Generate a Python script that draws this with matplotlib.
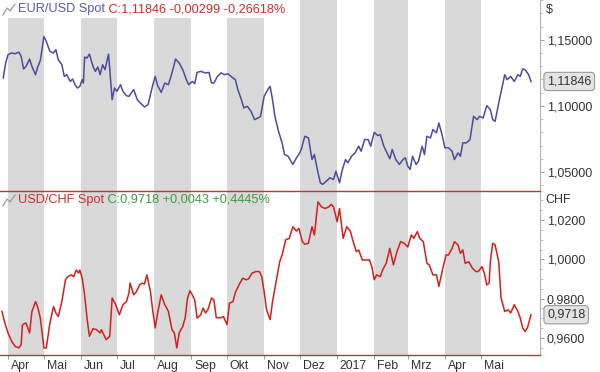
import matplotlib
matplotlib.use('Agg')
import matplotlib.pyplot as plt
import matplotlib.transforms as mtransforms
from matplotlib.patches import Rectangle
from matplotlib.ticker import FixedLocator, MultipleLocator, FuncFormatter
import pandas as pd

plt.rcParams['font.family'] = ['Liberation Sans', 'DejaVu Sans']

# ---------------- data ----------------
start = pd.Timestamp('2016-04-01')

eur_days = [
    -4, -2, 0, 3, 6, 9, 11, 13, 15, 18,
    20, 23, 25, 27, 30, 32, 35, 38, 40, 42,
    45, 47, 49, 52, 54, 56, 58, 60, 62, 63,
    64, 66, 68, 71, 73, 75, 77, 79, 81, 84,
    87, 89, 91, 94, 96, 99, 101, 105, 108, 110,
    114, 117, 119, 121, 123, 125, 128, 131, 134, 137,
    140, 143, 146, 149, 151, 154, 156, 158, 161, 165,
    168, 170, 172, 175, 178, 181, 184, 187, 190, 192,
    195, 197, 200, 203, 206, 209, 211, 214, 217, 219,
    221, 223, 226, 229, 231, 234, 238, 241, 243, 245,
    248, 251, 254, 256, 259, 261, 263, 266, 269, 272,
    274, 277, 279, 282, 284, 287, 290, 293, 295, 298,
    301, 303, 306, 309, 311, 314, 316, 319, 321, 324,
    327, 330, 332, 334, 336, 338, 341, 343, 346, 348,
    350, 353, 355, 358, 360, 363, 365, 368, 371, 373,
    376, 378, 380, 383, 386, 389, 392, 394, 397, 400,
    403, 405, 407, 410, 413, 415, 417, 420, 423, 426,
    428, 430, 432, 435, 437]
eur_vals = [
    1.1211, 1.1324, 1.1387, 1.1400, 1.1394, 1.1407, 1.1374, 1.1279, 1.1298, 1.1354,
    1.1298, 1.1236, 1.1298, 1.1344, 1.1525, 1.1487, 1.1412, 1.1400, 1.1425, 1.1349,
    1.1311, 1.1223, 1.1236, 1.1185, 1.1203, 1.1160, 1.1135, 1.1148, 1.1198, 1.1173,
    1.1369, 1.1362, 1.1392, 1.1298, 1.1261, 1.1294, 1.1236, 1.1311, 1.1274, 1.1392,
    1.1047, 1.1135, 1.1110, 1.1160, 1.1110, 1.1077, 1.1072, 1.1123, 1.1047, 1.1027,
    1.0992, 1.1009, 1.1085, 1.1160, 1.1223, 1.1153, 1.1102, 1.1173, 1.1160, 1.1249,
    1.1354, 1.1324, 1.1274, 1.1198, 1.1160, 1.1185, 1.1168, 1.1253, 1.1261, 1.1249,
    1.1253, 1.1173, 1.1173, 1.1223, 1.1249, 1.1236, 1.1243, 1.1218, 1.1198, 1.1123,
    1.1047, 1.0985, 1.0997, 1.0959, 1.0896, 1.0909, 1.0921, 1.1072, 1.1123, 1.1148,
    1.1047, 1.0921, 1.0808, 1.0720, 1.0632, 1.0619, 1.0557, 1.0607, 1.0632, 1.0670,
    1.0770, 1.0758, 1.0594, 1.0632, 1.0494, 1.0418, 1.0406, 1.0431, 1.0456, 1.0443,
    1.0506, 1.0418, 1.0506, 1.0594, 1.0569, 1.0619, 1.0645, 1.0695, 1.0657, 1.0745,
    1.0745, 1.0695, 1.0800, 1.0775, 1.0783, 1.0695, 1.0657, 1.0600, 1.0670, 1.0594,
    1.0557, 1.0594, 1.0607, 1.0544, 1.0519, 1.0619, 1.0557, 1.0582, 1.0695, 1.0632,
    1.0770, 1.0758, 1.0821, 1.0796, 1.0871, 1.0770, 1.0683, 1.0683, 1.0657, 1.0594,
    1.0645, 1.0619, 1.0720, 1.0720, 1.0745, 1.0921, 1.0896, 1.0921, 1.0909, 1.1002,
    1.0972, 1.0896, 1.0883, 1.1022, 1.1148, 1.1236, 1.1198, 1.1223, 1.1185, 1.1236,
    1.1223, 1.1279, 1.1274, 1.1236, 1.11846]

chf_days = [
    -5, -3, 0, 3, 6, 9, 11, 12, 15, 18,
    20, 23, 25, 27, 30, 32, 35, 38, 40, 42,
    45, 48, 50, 53, 55, 57, 59, 60, 62, 64,
    66, 68, 71, 74, 77, 78, 80, 82, 85, 87,
    90, 93, 96, 99, 101, 102, 105, 107, 110, 112,
    114, 116, 119, 121, 123, 125, 128, 131, 134, 137,
    139, 141, 143, 146, 148, 150, 152, 154, 156, 158,
    161, 163, 165, 167, 170, 172, 174, 177, 180, 183,
    185, 188, 190, 193, 196, 199, 201, 204, 207, 210,
    212, 214, 216, 219, 221, 223, 227, 229, 232, 235,
    238, 241, 243, 246, 248, 251, 254, 256, 259, 262,
    265, 268, 270, 272, 275, 277, 280, 283, 286, 288,
    291, 293, 296, 299, 302, 304, 306, 308, 311, 313,
    316, 319, 322, 325, 328, 331, 334, 337, 339, 342,
    344, 347, 350, 352, 355, 358, 360, 363, 366, 368,
    371, 373, 376, 378, 380, 382, 385, 388, 391, 393,
    396, 398, 400, 402, 403, 405, 407, 410, 412, 415,
    418, 420, 423, 426, 428, 430, 432, 434, 437]
chf_vals = [
    0.9735, 0.9684, 0.9625, 0.9583, 0.9557, 0.9549, 0.9566, 0.9667, 0.9676, 0.9625,
    0.9735, 0.9785, 0.9752, 0.9701, 0.9549, 0.9549, 0.9676, 0.9760, 0.9727, 0.9709,
    0.9785, 0.9896, 0.9912, 0.9921, 0.9912, 0.9946, 0.9930, 0.9946, 0.9904, 0.9819,
    0.9701, 0.9608, 0.9647, 0.9642, 0.9625, 0.9642, 0.9617, 0.9591, 0.9608, 0.9803,
    0.9769, 0.9718, 0.9769, 0.9785, 0.9828, 0.9879, 0.9819, 0.9833, 0.9870, 0.9879,
    0.9874, 0.9921, 0.9836, 0.9735, 0.9651, 0.9727, 0.9819, 0.9769, 0.9735, 0.9642,
    0.9625, 0.9549, 0.9625, 0.9659, 0.9701, 0.9803, 0.9840, 0.9819, 0.9794, 0.9701,
    0.9718, 0.9752, 0.9727, 0.9743, 0.9803, 0.9794, 0.9704, 0.9701, 0.9709, 0.9667,
    0.9777, 0.9785, 0.9833, 0.9870, 0.9904, 0.9896, 0.9901, 0.9930, 0.9938, 0.9938,
    0.9912, 0.9836, 0.9743, 0.9693, 0.9784, 0.9853, 0.9988, 1.0022, 1.0099, 1.0107,
    1.0166, 1.0144, 1.0158, 1.0090, 1.0077, 1.0082, 1.0166, 1.0124, 1.0293, 1.0267,
    1.0259, 1.0267, 1.0280, 1.0267, 1.0191, 1.0259, 1.0107, 1.0166, 1.0144, 1.0099,
    1.0039, 1.0048, 0.9997, 0.9997, 0.9997, 0.9963, 0.9896, 0.9921, 0.9912, 0.9946,
    0.9980, 1.0056, 0.9972, 1.0039, 1.0090, 1.0082, 1.0063, 1.0124, 1.0107, 1.0141,
    1.0107, 1.0090, 0.9980, 0.9972, 0.9921, 0.9921, 0.9862, 0.9946, 1.0022, 1.0022,
    1.0056, 1.0090, 1.0073, 1.0031, 1.0048, 0.9980, 0.9988, 0.9955, 0.9938, 0.9938,
    0.9963, 0.9930, 0.9870, 0.9879, 0.9988, 1.0082, 1.0073, 0.9988, 0.9803, 0.9735,
    0.9743, 0.9727, 0.9769, 0.9735, 0.9701, 0.9651, 0.9633, 0.9651, 0.9718]

month_labels = ['Apr', 'Mai', 'Jun', 'Jul', 'Aug', 'Sep', 'Okt', 'Nov',
                'Dez', '2017', 'Feb', 'Mrz', 'Apr', 'Mai']
eur_ticks = [1.05, 1.10, 1.15]
chf_ticks = [0.96, 0.98, 1.00, 1.02]

eur_title = 'EUR/USD Spot'
eur_quote = ' C:1,11846 -0,00299 -0,26618%'
chf_title = 'USD/CHF Spot'
chf_quote = ' C:0,9718 +0,0043 +0,4445%'
eur_last_label = '1,11846'
chf_last_label = '0,9718'

# ---------------- derived ----------------
eur_dates = start + pd.to_timedelta(eur_days, unit='D')
chf_dates = start + pd.to_timedelta(chf_days, unit='D')
month_starts = pd.date_range('2016-04-01', periods=len(month_labels) + 1, freq='MS')

BLUE = '#4b4d9b'
RED = '#d21f1f'
BAND = '#d9d9d9'
TXT = '#333333'
SEP = '#b03a3a'

W, H = 600, 372
TOP_H = 191
BOT_H = 164
fig = plt.figure(figsize=(W / 100, H / 100), dpi=100)
ax1 = fig.add_axes([0, 1 - TOP_H / H, 540 / W, TOP_H / H])
ax2 = fig.add_axes([0, 1 - (TOP_H + BOT_H) / H, 540 / W, BOT_H / H], sharex=ax1)
ax1.set_zorder(3)
ax2.set_zorder(2)

xmin = start - pd.Timedelta(days=6.7)
xmax = start + pd.Timedelta(days=444.5)

for ax in (ax1, ax2):
    ax.set_facecolor('white')
    for i in range(0, len(month_labels), 2):
        ax.axvspan(month_starts[i], month_starts[i + 1], color=BAND, lw=0, zorder=0)
    ax.spines['top'].set_visible(False)
    ax.spines['left'].set_visible(False)
    ax.spines['right'].set_color('#b0b0b0')
    ax.spines['right'].set_linewidth(0.8)
    ax.spines['bottom'].set_color(SEP)
    ax.spines['bottom'].set_linewidth(1.0)
    ax.yaxis.tick_right()
    ax.tick_params(axis='y', which='major', direction='out', length=3, width=0.7,
                   color='#999999', labelsize=9, labelcolor=TXT, pad=2)
    ax.tick_params(axis='y', which='minor', direction='out', length=2, width=0.6,
                   color='#bbbbbb')

ax1.set_xlim(xmin, xmax)

# lines
ax1.plot(eur_dates, eur_vals, color=BLUE, lw=1.1, zorder=3)
ax2.plot(chf_dates, chf_vals, color=RED, lw=1.1, zorder=3)

# y axes
ax1.set_ylim(1.0356, 1.1801)
ax1.yaxis.set_major_locator(FixedLocator(eur_ticks))
ax1.yaxis.set_minor_locator(MultipleLocator(0.01))
ax1.yaxis.set_major_formatter(FuncFormatter(lambda v, p: f'{v:.5f}'.replace('.', ',')))

ax2.set_ylim(0.9513, 1.0348)
ax2.yaxis.set_major_locator(FixedLocator(chf_ticks))
ax2.yaxis.set_minor_locator(MultipleLocator(0.005))
ax2.yaxis.set_major_formatter(FuncFormatter(lambda v, p: f'{v:.4f}'.replace('.', ',')))

# x axis
ax1.tick_params(axis='x', bottom=False, labelbottom=False)
ax2.set_xticks(month_starts[:-1])
ax2.set_xticklabels(month_labels)
ax2.tick_params(axis='x', direction='out', length=3, width=0.7, color='#999999',
                labelsize=8.8, labelcolor=TXT, pad=0.5)
offset = mtransforms.ScaledTranslation(2 / 72, 0, fig.dpi_scale_trans)
for lab in ax2.get_xticklabels():
    lab.set_horizontalalignment('left')
    lab.set_transform(lab.get_transform() + offset)

# unit labels
ax1.text(1.01, 1 - 10 / TOP_H, '$', transform=ax1.transAxes, ha='left', va='center',
         fontsize=9, color=TXT)
ax2.text(1.01, 1 - 9 / BOT_H, 'CHF', transform=ax2.transAxes, ha='left', va='center',
         fontsize=9, color=TXT)

# last value boxes
box = dict(boxstyle='round,pad=0.25,rounding_size=0.3', fc='#e4e4e4', ec='#9a9a9a', lw=0.8)
tr1 = mtransforms.blended_transform_factory(ax1.transAxes, ax1.transData)
ax1.text(1.013, eur_vals[-1], eur_last_label, transform=tr1, ha='left', va='center',
         fontsize=9, color=TXT, bbox=box, zorder=5, clip_on=False)
tr2 = mtransforms.blended_transform_factory(ax2.transAxes, ax2.transData)
ax2.text(1.013, chf_vals[-1], chf_last_label, transform=tr2, ha='left', va='center',
         fontsize=9, color=TXT, bbox=box, zorder=5, clip_on=False)

# titles
ax1.add_patch(Rectangle((0, 1 - 18 / TOP_H), 290 / 540, 18 / TOP_H, transform=ax1.transAxes,
                        facecolor='white', edgecolor='none', zorder=2))
t1 = ax1.text(18 / 540, 1 - 9 / TOP_H, eur_title, transform=ax1.transAxes, ha='left',
              va='center', fontsize=9.2, color='#5a5ca5', zorder=4)
ax1.annotate(eur_quote, xy=(1, 0), xycoords=t1, ha='left', va='bottom',
             fontsize=9.2, color='#c8302b', zorder=4)
t2 = ax2.text(18 / 540, 1 - 9 / BOT_H, chf_title, transform=ax2.transAxes, ha='left',
              va='center', fontsize=9.2, color='#c8302b', zorder=4)
ax2.annotate(chf_quote, xy=(1, 0), xycoords=t2, ha='left', va='bottom',
             fontsize=9.2, color='#3d9c3d', zorder=4)

# small chart icons
for ax, hh in ((ax1, TOP_H), (ax2, BOT_H)):
    ix = [3 / 540, 7 / 540, 10 / 540, 15 / 540]
    iy = [1 - 15 / hh, 1 - 8 / hh, 1 - 11 / hh, 1 - 4 / hh]
    ax.plot(ix, iy, transform=ax.transAxes, color='#9a9a9a', lw=0.9, zorder=4,
            clip_on=False)

fig.savefig('out.png', dpi=100)
